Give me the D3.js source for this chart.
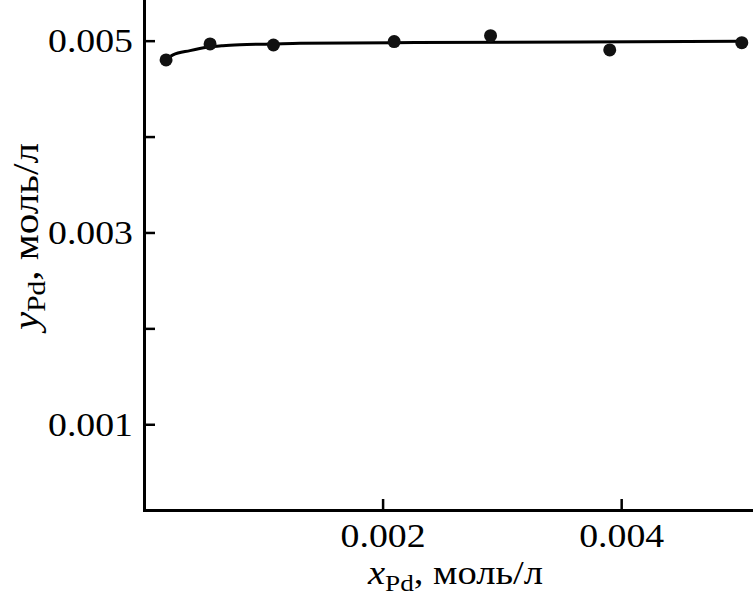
<!DOCTYPE html>
<html>
<head>
<meta charset="utf-8">
<script src="https://cdn.jsdelivr.net/npm/d3@7"></script>
<style>
  body { margin: 0; background: #fff; }
  svg { display: block; }
  text { font-family: "Liberation Serif", "Times New Roman", Times, serif; fill: #000; }
</style>
</head>
<body>
<svg width="753" height="603"></svg>
<script>
// measured points
var xPd = [0.000185, 0.000554, 0.001085, 0.002097, 0.002905, 0.003904, 0.005011];
var yPd = [0.004799, 0.004966, 0.004955, 0.004990, 0.005052, 0.004903, 0.004979];

// fitted curve
var curveX = [0.000184, 0.000243, 0.000386, 0.000526, 0.000662, 0.000805, 0.001081, 0.001308, 0.002096, 0.003655, 0.005004];
var curveY = [0.004799, 0.004851, 0.004896, 0.004931, 0.004948, 0.004958, 0.004966, 0.004973, 0.004979, 0.004986, 0.004994];

var xTicks = [0.002, 0.004];
var yTicks = [0.001, 0.002, 0.003, 0.004, 0.005];
var yLabelled = ["0.001", "0.003", "0.005"];

var svg = d3.select("svg"),
    margin = {top: 0, right: 0, bottom: 93, left: 144},
    width = +svg.attr("width") - margin.left - margin.right,
    height = +svg.attr("height") - margin.top - margin.bottom;

var x = d3.scaleLinear().domain([0, 0.005105]).range([0, width]),
    y = d3.scaleLinear().domain([0.000106, 0.005424]).range([height, 0]);

var g = svg.append("g")
    .attr("transform", "translate(" + margin.left + "," + margin.top + ")");

var fmt = d3.format(".3f");

var xAxis = g.append("g")
    .attr("transform", "translate(0," + height + ")")
    .call(d3.axisBottom(x).tickValues(xTicks).tickSizeInner(-11).tickSizeOuter(0)
        .tickPadding(14).tickFormat(fmt));

var yAxis = g.append("g")
    .call(d3.axisLeft(y).tickValues(yTicks).tickSizeInner(-11).tickSizeOuter(0)
        .tickPadding(11)
        .tickFormat(function(d) { var s = fmt(d); return yLabelled.indexOf(s) >= 0 ? s : ""; }));

[xAxis, yAxis].forEach(function(a) {
    a.select(".domain").attr("stroke-width", 3).attr("stroke-linecap", "square");
    a.selectAll(".tick line").attr("stroke-width", 2.5);
    a.selectAll(".tick text")
        .style("font-size", "33px")
        .attr("textLength", function() { return this.textContent ? 85 : null; })
        .attr("lengthAdjust", "spacingAndGlyphs");
});
yAxis.selectAll(".tick text").attr("dy", "0.34em");

var line = d3.line()
    .x(function(d, i) { return x(curveX[i]); })
    .y(function(d, i) { return y(curveY[i]); })
    .curve(d3.curveMonotoneX);

g.append("path")
    .datum(curveX)
    .attr("d", line)
    .attr("fill", "none")
    .attr("stroke", "#000")
    .attr("stroke-width", 3);

g.selectAll(".dot")
    .data(xPd)
    .enter().append("circle")
        .attr("class", "dot")
        .attr("cx", function(d) { return x(d); })
        .attr("cy", function(d, i) { return y(yPd[i]); })
        .attr("r", 6.5)
        .attr("fill", "#111");

// axis titles
var xt = svg.append("text")
    .attr("x", 368)
    .attr("y", 584)
    .attr("textLength", 175)
    .attr("lengthAdjust", "spacingAndGlyphs")
    .style("font-size", "34px");
xt.append("tspan").style("font-style", "italic").text("x");
xt.append("tspan").attr("dy", 7).style("font-size", "24px").text("Pd");
xt.append("tspan").attr("dy", -7).text(", моль/л");

var yt = svg.append("text")
    .attr("transform", "translate(38,330) rotate(-90)")
    .attr("textLength", 187)
    .attr("lengthAdjust", "spacingAndGlyphs")
    .style("font-size", "35px");
yt.append("tspan").style("font-style", "italic").text("y");
yt.append("tspan").attr("dy", 7).style("font-size", "25px").text("Pd");
yt.append("tspan").attr("dy", -7).text(", моль/л");
</script>
</body>
</html>
